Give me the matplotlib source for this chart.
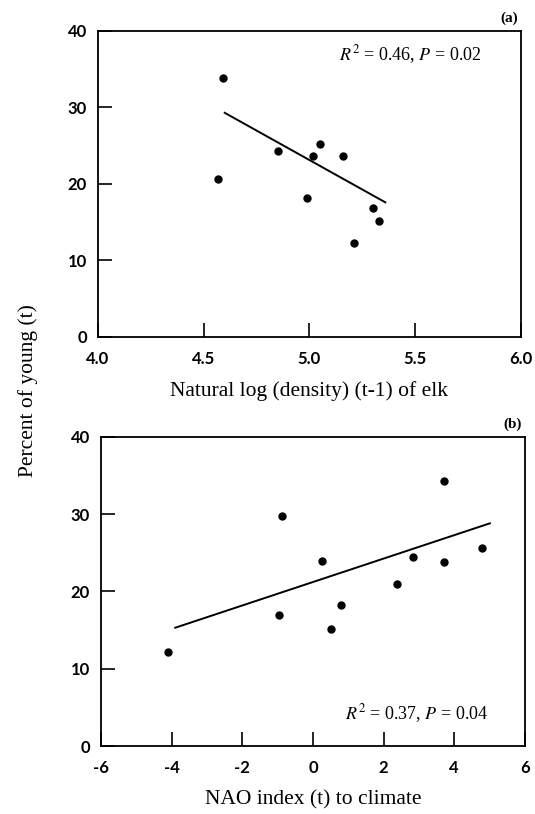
import numpy as np
import matplotlib
matplotlib.use("Agg")
import matplotlib.pyplot as plt

# panel (a): density vs percent young
dens_x = [4.59, 4.57, 4.85, 5.02, 5.05, 5.16, 4.99, 5.30, 5.33, 5.21]
dens_y = [33.8, 20.6, 24.3, 23.6, 25.2, 23.6, 18.2, 16.9, 15.2, 12.3]
fit_a_x = [4.60, 5.36]
fit_a_y = [29.3, 17.6]

# panel (b): NAO vs percent young
nao_x = [-4.11, -0.89, -0.97, 0.25, 0.50, 0.79, 2.39, 2.84, 3.70, 3.71, 4.79]
nao_y = [12.1, 29.7, 16.9, 23.9, 15.1, 18.2, 20.9, 24.5, 34.3, 23.8, 25.6]
fit_b_x = [-3.90, 5.01]
fit_b_y = [15.3, 28.8]

a_xticks = [4.0, 4.5, 5.0, 5.5, 6.0]
b_xticks = [-6, -4, -2, 0, 2, 4, 6]
yticks = [0, 10, 20, 30, 40]

serif = ["Liberation Serif", "DejaVu Serif"]
tickfont = dict(family="Lato", weight="bold", size=12)

fig = plt.figure(figsize=(5.35, 8.14), dpi=100)
ax1 = fig.add_axes([0.183, 0.586, 0.790, 0.376])
ax2 = fig.add_axes([0.189, 0.0835, 0.792, 0.380])

def style(ax, xt, xlim, xlabels):
    ax.set_xlim(*xlim)
    ax.set_ylim(0, 40)
    ax.set_xticks(xt)
    ax.set_xticklabels(xlabels, fontdict=tickfont)
    ax.set_yticks(yticks)
    ax.set_yticklabels([str(v) for v in yticks], fontdict=tickfont)
    ax.tick_params(direction="in", length=10, width=1.2, color="black")
    ax.tick_params(axis="x", pad=10)
    ax.tick_params(axis="y", pad=8)
    for s in ax.spines.values():
        s.set_linewidth(1.3)

ax1.plot(dens_x, dens_y, "o", color="black", markersize=5)
ax1.plot(fit_a_x, fit_a_y, "-", color="black", lw=1.4)
style(ax1, a_xticks, (4.0, 6.0), ["4.0", "4.5", "5.0", "5.5", "6.0"])
ax1.set_xlabel("Natural log (density) (t-1) of elk", family=serif, fontsize=15.5, labelpad=10)
ax1.text(0.57, 0.905, r"$R^2$ = 0.46, $P$ = 0.02", transform=ax1.transAxes,
         family=serif, fontsize=13, math_fontfamily="stix")
ax1.text(0.993, 1.02, "(a)", transform=ax1.transAxes, ha="right", va="bottom",
         family=serif, fontsize=11, weight="bold")

ax2.plot(nao_x, nao_y, "o", color="black", markersize=5)
ax2.plot(fit_b_x, fit_b_y, "-", color="black", lw=1.4)
style(ax2, b_xticks, (-6, 6), [str(v) for v in b_xticks])
ax2.set_xlabel("NAO index (t) to climate", family=serif, fontsize=15.5, labelpad=10)
ax2.text(0.575, 0.085, r"$R^2$ = 0.37, $P$ = 0.04", transform=ax2.transAxes,
         family=serif, fontsize=13, math_fontfamily="stix")
ax2.text(0.993, 1.02, "(b)", transform=ax2.transAxes, ha="right", va="bottom",
         family=serif, fontsize=11, weight="bold")

fig.text(0.053, 0.52, "Percent of young (t)", rotation=90, ha="center", va="center",
         family=serif, fontsize=15.5)

fig.savefig("out.png", dpi=100)
